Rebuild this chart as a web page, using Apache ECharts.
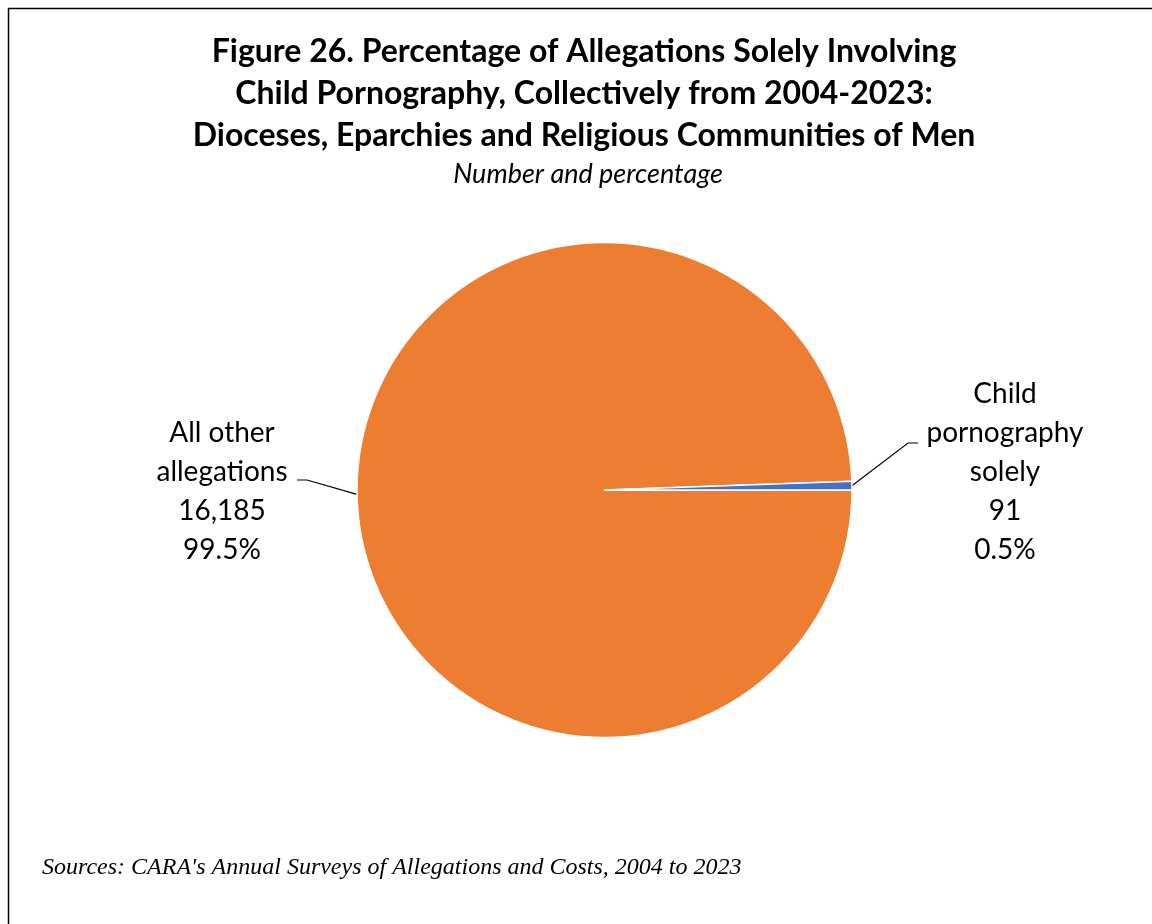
<!DOCTYPE html>
<html>
<head>
<meta charset="utf-8">
<script src="https://cdn.jsdelivr.net/npm/echarts@6/dist/echarts.min.js"></script>
<style>
  html, body { margin: 0; padding: 0; background: #fff; }
  #chart { width: 1152px; height: 924px; }
</style>
</head>
<body>
<div id="chart"></div>
<script>
const categories = ['All other\nallegations', 'Child\npornography\nsolely'];
const counts = [16185, 91];
const percents = ['99.5%', '0.5%'];
const colors = ['#ED7D31', '#4472C4'];

const font = 'Lato, "Open Sans", sans-serif';

const chart = echarts.init(document.getElementById('chart'));

// label anchors (center of text block) and elbow of the leader line
const labelSpots = [
  { x: 222, y: 491, elbow: [307, 480], end: [297, 480] },
  { x: 1005, y: 472, elbow: [908, 443], end: [918, 443] }
];

const option = {
  backgroundColor: '#fff',
  title: [
    {
      text: 'Figure 26. Percentage of Allegations Solely Involving\nChild Pornography, Collectively from 2004-2023:\nDioceses, Eparchies and Religious Communities of Men',
      left: 579, top: 26, textAlign: 'center',
      textStyle: { fontFamily: font, fontWeight: 'bold', fontSize: 32, lineHeight: 42, color: '#000' }
    },
    {
      text: 'Number and percentage',
      left: 583, top: 156, textAlign: 'center',
      textStyle: { fontFamily: font, fontStyle: 'italic', fontWeight: 'normal', fontSize: 27, color: '#000' }
    },
    {
      text: "Sources: CARA's Annual Surveys of Allegations and Costs, 2004 to 2023",
      left: 37, top: 851,
      textStyle: { fontFamily: '"Liberation Serif", "Times New Roman", serif', fontStyle: 'italic', fontWeight: 'normal', fontSize: 24, color: '#000' }
    }
  ],
  graphic: [
    {
      type: 'rect', left: 6, top: 6, silent: true,
      shape: { width: 1160, height: 930 },
      style: { fill: 'none', stroke: '#000', lineWidth: 1.5 }
    }
  ],
  series: [
    {
      type: 'pie',
      center: [604.5, 490],
      radius: 247.5,
      startAngle: 0,
      clockwise: true,
      animation: false,
      itemStyle: { borderColor: '#fff', borderWidth: 1.5 },
      label: {
        show: true,
        position: 'outside',
        fontFamily: font,
        fontSize: 28,
        lineHeight: 39,
        color: '#000',
        align: 'center',
        formatter: p => p.name + '\n' + counts[p.dataIndex].toLocaleString('en-US') + '\n' + percents[p.dataIndex]
      },
      labelLine: { show: true, lineStyle: { color: '#000', width: 1.2 } },
      labelLayout: function (params) {
        const s = labelSpots[params.dataIndex];
        const pts = params.labelLinePoints;
        return {
          x: s.x, y: s.y, align: 'center', verticalAlign: 'middle',
          labelLinePoints: pts ? [pts[0], s.elbow, s.end] : undefined
        };
      },
      data: categories.map((c, i) => ({ name: c, value: counts[i], itemStyle: { color: colors[i] } }))
    }
  ]
};

chart.setOption(option);
</script>
</body>
</html>
